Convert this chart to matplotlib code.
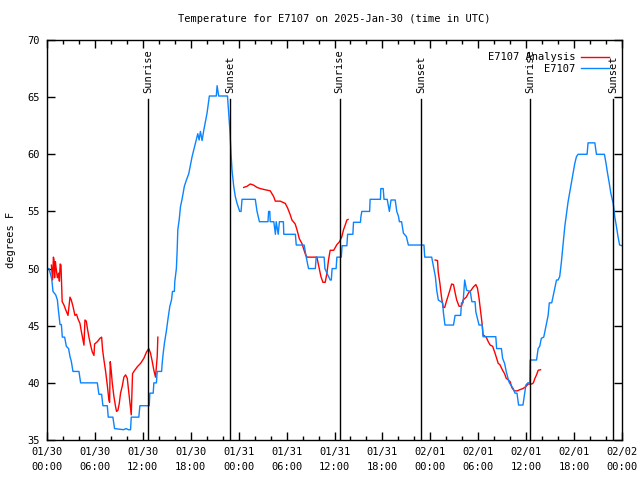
import matplotlib
matplotlib.use('Agg')
import matplotlib.pyplot as plt
import numpy as np

# hours since 2025-01-30 00:00 UTC
station_hours = [0.0, 0.25, 0.59, 0.75, 1.09, 1.3, 1.42, 1.63, 1.8, 1.92, 2.21, 2.42, 2.7, 2.88,
                 3.04, 3.25, 4.0, 4.21, 6.3, 6.5, 6.84, 7.0, 7.55, 7.67, 8.25, 8.46, 9.6, 9.9,
                 10.2, 10.46, 10.55, 11.5, 11.63, 12.8, 12.88, 13.3, 13.38, 13.7, 13.8, 14.35,
                 14.42, 14.55, 14.71, 14.96, 15.13, 15.38, 15.59, 15.71, 15.95, 16.0, 16.2, 16.3,
                 16.38, 16.55, 16.71, 16.92, 17.05, 17.2, 17.46, 17.75, 17.96, 18.17, 18.38,
                 18.59, 18.88, 19.05, 19.21, 19.42, 19.63, 19.83, 20.04, 20.17, 20.33, 21.2,
                 21.3, 21.5, 22.6, 22.75, 22.9, 23.05, 23.17, 23.38, 23.58, 23.8, 24.13, 24.3,
                 24.42, 26.08, 26.3, 26.6, 27.67, 27.75, 27.9, 27.95, 28.4, 28.6, 28.7, 28.95,
                 29.1, 29.6, 29.65, 31.1, 31.21, 32.2, 32.46, 32.75, 33.6, 33.71, 34.7, 34.8,
                 35.05, 35.46, 35.6, 35.7, 36.2, 36.3, 36.85, 36.95, 37.55, 37.64, 38.3, 38.38,
                 39.25, 39.3, 39.42, 40.4, 40.46, 41.75, 41.8, 42.1, 42.2, 42.6, 42.87, 43.08,
                 43.6, 43.8, 44.0, 44.13, 44.4, 44.63, 45.0, 45.25, 47.2, 47.3, 48.17, 48.46,
                 48.63, 48.8, 49.0, 49.55, 49.63, 49.83, 50.9, 51.1, 51.8, 51.9, 52.1, 52.3,
                 52.54, 53.0, 53.2, 53.6, 53.7, 54.1, 54.5, 54.6, 56.2, 56.3, 56.9, 57.05, 57.3,
                 57.5, 57.8, 57.9, 58.38, 58.6, 58.85, 59.05, 59.6, 59.8, 59.96, 60.2, 60.45,
                 60.5, 61.3, 61.5, 61.7, 61.9, 62.2, 62.5, 62.75, 62.9, 63.2, 63.5, 63.8, 64.0,
                 64.2, 64.4, 64.63, 64.84, 65.05, 65.25, 65.46, 65.67, 65.88, 66.09, 66.3, 66.5,
                 67.63, 67.75, 68.6, 68.8, 69.8, 70.0, 70.2, 70.4, 70.6, 70.9, 71.1, 71.3, 71.5,
                 71.7, 72.0]
station_temp = [50.0, 50.0, 49.1, 48.0, 47.7, 47.25, 46.4, 45.1, 45.1, 44.0, 44.0, 43.2, 43.0, 42.3,
                41.9, 41.0, 41.0, 40.0, 40.0, 39.0, 39.0, 38.0, 38.0, 37.0, 37.0, 36.0, 35.9, 36.0,
                35.9, 35.9, 37.0, 37.0, 38.0, 38.0, 39.1, 39.1, 40.0, 40.0, 41.0, 41.0,
                41.7, 42.6, 43.5, 44.6, 45.5, 46.7, 47.25, 48.0, 48.0, 48.85, 50.0, 51.6,
                53.4, 54.25, 55.4, 56.1, 56.6, 57.2, 57.75, 58.3, 59.06, 59.8, 60.4,
                61.0, 61.8, 61.25, 62.0, 61.2, 62.1, 62.85, 63.6, 64.3, 65.1, 65.1,
                66.0, 65.1, 65.1, 63.6, 62.1, 60.0, 58.6, 57.2, 56.3, 55.7, 55.0, 55.0,
                56.06, 56.06, 55.0, 54.1, 54.1, 55.0, 55.0, 54.1, 54.1, 53.0, 54.1, 53.0,
                54.1, 54.1, 53.0, 53.0, 52.06, 52.06, 51.0, 50.0, 50.0, 51.0, 51.0, 50.0,
                49.6, 49.0, 49.0, 50.0, 50.0, 51.0, 51.0, 52.0, 52.0, 53.0, 53.0, 54.05,
                54.05, 54.5, 55.0, 55.0, 56.06, 56.06, 57.0, 57.0, 56.06, 56.06, 55.0, 56.0,
                56.0, 55.0, 54.6, 54.1, 54.1, 53.1, 52.8, 52.06, 52.06, 51.0, 51.0, 49.9,
                49.3, 48.1, 47.25, 47.0, 46.2, 45.06, 45.06, 45.9, 45.9, 47.0, 47.0, 49.0,
                48.1, 48.0, 47.1, 47.1, 46.2, 45.06, 45.06, 44.04, 44.04, 43.0, 43.0, 42.15, 41.7,
                41.0, 40.2, 40.0, 39.5, 39.1, 39.1, 38.06, 38.06, 39.0, 39.8, 40.0, 40.0,
                42.0, 42.0, 43.0, 43.2, 43.9, 44.0, 45.06, 45.9, 47.0, 47.0, 48.0, 49.0, 49.0,
                49.3, 50.5, 52.2, 53.7, 54.8, 55.85, 56.7, 57.6, 58.4, 59.2, 59.8, 60.0,
                60.0, 61.0, 61.0, 60.0, 60.0, 59.2, 58.3, 57.5, 56.6, 55.7, 54.5, 53.7, 52.8,
                52.06, 52.0]

analysis_hours = [0.55, 0.7, 0.8, 0.88, 0.95, 1.05, 1.15, 1.3, 1.45, 1.55, 1.65, 1.75, 1.82, 1.9,
                  2.13, 2.34, 2.63, 2.88, 3.04, 3.25, 3.5, 3.7, 3.88, 4.13, 4.3, 4.5, 4.63, 4.75,
                  4.92, 5.05, 5.25, 5.46, 5.67, 5.88, 5.96, 6.3, 6.63, 6.84, 6.96, 7.13, 7.34,
                  7.55, 7.75, 7.84, 7.92, 8.05, 8.17, 8.38, 8.59, 8.71, 8.88, 9.05, 9.21, 9.42,
                  9.63, 9.84, 10.05, 10.25, 10.38, 10.55, 10.71, 10.88, 11.3, 11.71, 12.13,
                  12.46, 12.75, 12.96, 13.17, 13.38, 13.59, 13.8, 13.88,
                  19.0,
                  24.63, 25.05, 25.46, 25.88, 26.3, 26.7, 27.3, 27.96, 28.38, 28.59, 29.2,
                  29.84, 30.13, 30.46, 30.67, 31.08, 31.3, 31.6, 31.92, 32.33, 32.55, 33.8,
                  34.0, 34.3, 34.55, 34.84, 35.05, 35.25, 35.46, 35.9, 36.3, 36.63, 36.92,
                  37.13, 37.34, 37.55, 37.7,
                  43.0,
                  48.6, 48.9, 48.99, 49.2, 49.4, 49.6, 49.8, 50.0, 50.4, 50.67, 50.9, 51.1,
                  51.3, 51.6, 51.9, 52.1, 52.5, 52.8, 53.1, 53.4, 53.7, 53.9, 54.1, 54.3, 54.5,
                  54.6, 55.0, 55.25, 55.5, 55.8, 56.1, 56.3, 56.5, 56.7, 57.05, 57.3, 57.5,
                  57.7, 58.0, 58.2, 58.5, 58.9, 59.2, 59.6, 60.0, 60.25, 60.7, 60.9, 61.1,
                  61.3, 61.5, 61.8]
analysis_temp = [50.3, 49.0, 51.0, 50.8, 49.2, 50.6, 50.0, 49.2, 49.6, 48.9, 50.4, 50.3, 48.8, 47.1,
                 46.8, 46.4, 45.9, 47.5, 47.25, 46.7, 45.9, 46.0, 45.6, 45.2, 44.5, 43.75, 43.3, 45.5,
                 45.4, 44.8, 44.0, 43.3, 42.7, 42.4, 43.4, 43.6, 43.9, 44.0, 42.9, 42.0, 41.0,
                 39.8, 38.5, 38.3, 41.85, 41.0, 40.0, 38.8, 37.9, 37.5, 37.6, 38.2, 39.1, 39.7,
                 40.5, 40.7, 40.4, 39.1, 38.3, 37.2, 40.8, 41.0, 41.4, 41.7, 42.15,
                 42.7, 43.0, 42.6, 41.9, 41.1, 40.5, 42.3, 44.0,
                 np.nan,
                 57.1, 57.2, 57.4, 57.3, 57.1, 57.0, 56.9, 56.8, 56.3, 55.9, 55.9,
                 55.7, 55.3, 54.7, 54.25, 53.9, 53.4, 52.6, 52.2, 51.3, 51.0, 51.0,
                 50.3, 49.3, 48.8, 48.8, 49.6, 50.75, 51.6, 51.6, 52.1, 52.35, 52.8,
                 53.4, 53.8, 54.25, 54.3,
                 np.nan,
                 50.75, 50.7, 49.7, 48.7, 47.5, 46.6, 46.6, 47.1, 48.0, 48.65, 48.6, 47.9,
                 47.25, 46.7, 46.7, 47.25, 47.5, 47.9, 48.1, 48.4, 48.6, 48.3, 47.4, 46.2, 45.06,
                 44.2, 44.0, 43.6, 43.3, 43.2, 42.6, 42.15, 41.7, 41.6, 41.1, 40.8, 40.4,
                 40.3, 40.1, 39.6, 39.3, 39.3, 39.4, 39.5, 39.7, 39.9, 39.9, 40.0, 40.4,
                 40.7, 41.1, 41.15]

sun_hours = [12.63, 22.96, 36.63, 46.88, 60.5, 70.9]
sun_labels = ['Sunrise', 'Sunset', 'Sunrise', 'Sunset', 'Sunrise', 'Sunset']

tick_hours = [0, 6, 12, 18, 24, 30, 36, 42, 48, 54, 60, 66, 72]
tick_labels = ['01/30\n00:00', '01/30\n06:00', '01/30\n12:00', '01/30\n18:00',
               '01/31\n00:00', '01/31\n06:00', '01/31\n12:00', '01/31\n18:00',
               '02/01\n00:00', '02/01\n06:00', '02/01\n12:00', '02/01\n18:00',
               '02/02\n00:00']

plt.rcParams['font.family'] = 'DejaVu Sans Mono'
plt.rcParams['font.size'] = 7.5

fig = plt.figure(figsize=(6.4, 4.8), dpi=100)
ax = fig.add_axes([47 / 640, 40 / 480, 575 / 640, 400 / 480])

ax.plot(analysis_hours, analysis_temp, color='#ff0000', lw=1.0, label='E7107 Analysis')
ax.plot(station_hours, station_temp, color='#0a84ff', lw=1.0, label='E7107')

for h, lab in zip(sun_hours, sun_labels):
    ax.plot([h, h], [35, 64.8], color='black', lw=1.0)
    ax.text(h, 65.4, lab, rotation=90, ha='center', va='bottom')

ax.set_xlim(0, 72)
ax.set_ylim(35, 70)
ax.set_xticks(tick_hours)
ax.set_xticklabels(tick_labels, linespacing=1.6)
ax.set_xticks(np.arange(0, 73, 2), minor=True)
ax.set_yticks(np.arange(35, 71, 5))
ax.tick_params(direction='in', top=True, right=True, length=6, width=1, pad=5)
ax.tick_params(which='minor', direction='in', top=True, right=True, length=3, width=1)
for s in ax.spines.values():
    s.set_linewidth(1.0)

ax.set_ylabel('degrees F', labelpad=8)
ax.set_title('Temperature for E7107 on 2025-Jan-30 (time in UTC)', fontsize=7.5, pad=13)

ax.legend(loc='upper right', frameon=False, markerfirst=False, handlelength=2.7,
          borderaxespad=0.8, labelspacing=0.1, handletextpad=0.6)

fig.savefig('out.png', dpi=100)
